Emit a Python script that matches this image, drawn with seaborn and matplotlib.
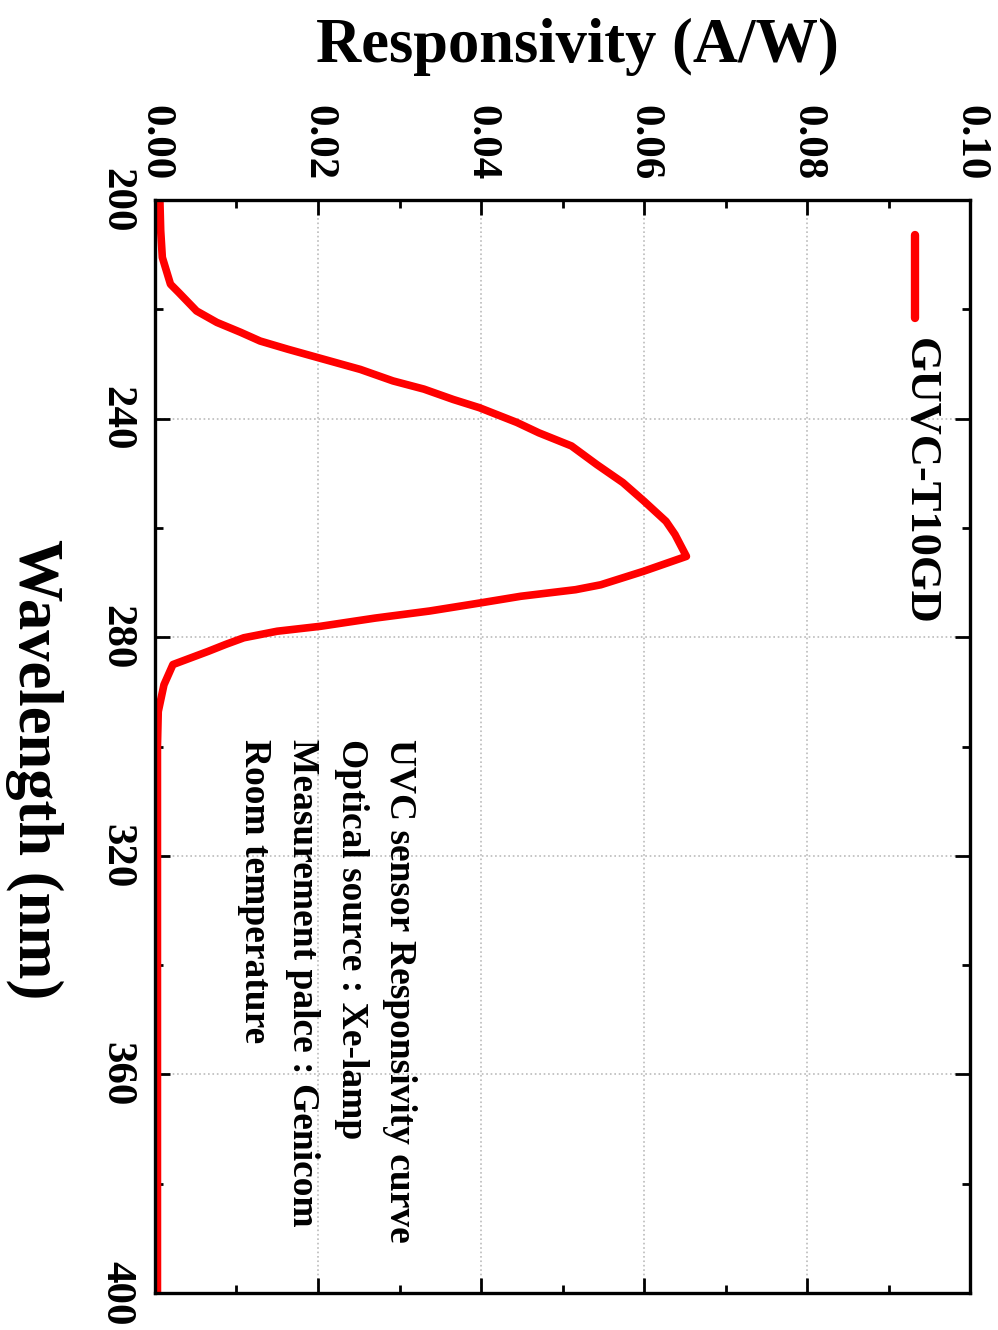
import matplotlib
matplotlib.use("Agg")
import matplotlib.pyplot as plt
import seaborn as sns
from matplotlib.ticker import MultipleLocator

# wavelength (nm) vs responsivity (A/W)
wavelength = [200, 205.6, 210.5, 215.4, 216.9, 220.3, 222.4, 224.2, 225.8,
              227.3, 228.8, 231.0, 233.1, 234.6, 236.5, 238.0, 240.7, 242.6,
              245.0, 248.4, 251.7, 255.1, 258.8, 261.2, 265.2, 267.9, 270.4,
              271.3, 272.5, 273.7, 275.2, 276.5, 278.0, 278.9, 280.1, 281.3,
              282.6, 285.0, 288.7, 293.6, 300, 320, 340, 360, 380, 400]
responsivity = [0.0006, 0.0007, 0.0009, 0.0019, 0.0029, 0.0051, 0.0076, 0.0105,
                0.0129, 0.0163, 0.0199, 0.0252, 0.0292, 0.0330, 0.0366, 0.0398,
                0.0444, 0.0471, 0.0511, 0.0542, 0.0574, 0.0600, 0.0627, 0.0638,
                0.0652, 0.0600, 0.0547, 0.0516, 0.0449, 0.0400, 0.0337, 0.0270,
                0.0203, 0.0150, 0.0109, 0.0087, 0.0065, 0.0022, 0.0011, 0.0004,
                0.0003, 0.0003, 0.0003, 0.0003, 0.0003, 0.0003]

series_name = "GUVC-T10GD"
note_lines = ["UVC sensor Responsivity curve",
              "Optical source : Xe-lamp",
              "Measurement palce : Genicom",
              "Room temperature"]
x_ticks = [0.00, 0.02, 0.04, 0.06, 0.08, 0.10]
y_ticks = [200, 240, 280, 320, 360, 400]

sns.set_style("ticks")
plt.rcParams["font.family"] = ["Liberation Serif", "DejaVu Serif"]
plt.rcParams["font.weight"] = "bold"
plt.rcParams["text.color"] = "black"
plt.rcParams["axes.labelcolor"] = "black"
plt.rcParams["xtick.color"] = "black"
plt.rcParams["ytick.color"] = "black"

fig = plt.figure(figsize=(9.98, 13.30), dpi=100)
ax = fig.add_axes([0.1553, 0.0278, 0.8167, 0.8218])

sns.lineplot(x=responsivity, y=wavelength, sort=False, estimator=None,
             color="#ff0000", lw=5.5, ax=ax)

ax.set_xlim(0, 0.10)
ax.set_ylim(400, 200)
ax.set_xticks(x_ticks)
ax.set_yticks(y_ticks)
ax.xaxis.set_minor_locator(MultipleLocator(0.01))
ax.yaxis.set_minor_locator(MultipleLocator(20))
ax.set_xticklabels([f"{v:.2f}" for v in x_ticks], rotation=-90, fontsize=31,
                   fontweight="bold")
ax.set_yticklabels([str(v) for v in y_ticks], rotation=-90, fontsize=31,
                   fontweight="bold", va="center")

ax.xaxis.tick_top()
ax.xaxis.set_label_position("top")
ax.tick_params(which="both", direction="in", top=True, bottom=True,
               left=True, right=True, width=2, colors="black")
ax.tick_params(which="major", length=11)
ax.tick_params(which="minor", length=6)
ax.tick_params(axis="x", which="major", pad=14)
ax.tick_params(axis="y", which="major", pad=14)

ax.grid(True, which="major", linestyle=":", color="#bbbbbb", lw=1.2)
for s in ax.spines.values():
    s.set_linewidth(2.4)
    s.set_color("black")

ax.set_xlabel("Responsivity (A/W)", fontsize=45, fontweight="bold", labelpad=31)
ax.set_ylabel("Wavelength (nm)", fontsize=45, fontweight="bold", rotation=-90,
              labelpad=46, va="center")
ax.xaxis.label.set_x(0.518)
ax.yaxis.label.set_y(0.479)

# legend, drawn sideways like the rest of the figure
ax.plot([0.9325, 0.9325], [0.968, 0.892], transform=ax.transAxes,
        color="#ff0000", lw=6, solid_capstyle="round")
ax.text(0.938, 0.874, series_name, transform=ax.transAxes, rotation=-90,
        ha="center", va="top", fontsize=32, fontweight="bold")

ax.text(0.322, 0.507, "\n".join(note_lines), transform=ax.transAxes,
        rotation=-90, ha="right", va="top", multialignment="left",
        fontsize=27, fontweight="bold", linespacing=1.5)

fig.savefig("out.png", dpi=100)
